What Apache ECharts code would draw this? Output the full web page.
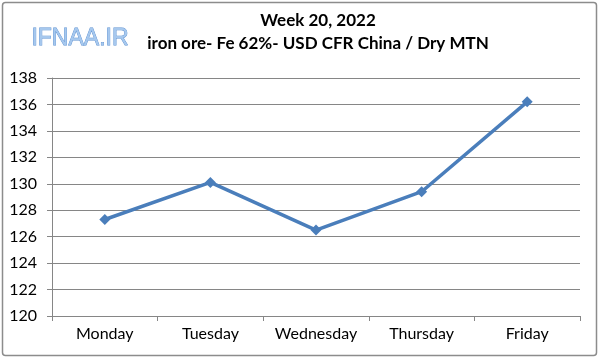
<!DOCTYPE html>
<html><head><meta charset="utf-8">
<script src="https://cdn.jsdelivr.net/npm/echarts@6/dist/echarts.min.js"></script>
<style>html,body{margin:0;padding:0;background:#fff}#c{width:600px;height:359px}</style>
</head><body><div id="c"></div>
<script>
const categories = ['Monday', 'Tuesday', 'Wednesday', 'Thursday', 'Friday'];
const prices = [127.3, 130.1, 126.5, 129.4, 136.2];
const yMin = 120, yMax = 138, yStep = 2;
const titleText = 'Week 20, 2022';
const subtitleText = 'iron ore- Fe 62%- USD CFR China / Dry MTN';
const logoText = 'IFNAA.IR';

const FONT = 'Lato, "Open Sans", Arial, sans-serif';
const chart = echarts.init(document.getElementById('c'));
chart.setOption({
  animation: false,
  backgroundColor: '#fff',
  graphic: [
    { type: 'rect', shape: { x: 2.5, y: 2.5, width: 594, height: 353, r: 3 },
      style: { fill: 'none', stroke: '#8c8c8c', lineWidth: 1.5 }, z: -1 },
    { type: 'text', left: 31, top: 27,
      style: { text: logoText, font: '23px "Liberation Sans", Arial, sans-serif',
        fill: '#a6c8ee', stroke: '#5b8fd0', lineWidth: 0.8 } }
  ],
  title: [
    { text: titleText, left: 313, top: 7, textAlign: 'center',
      textStyle: { fontSize: 17, fontWeight: 'bold', color: '#000', fontFamily: FONT } },
    { text: subtitleText, left: 313, top: 30, textAlign: 'center',
      textStyle: { fontSize: 17, fontWeight: 'bold', color: '#000', fontFamily: FONT } }
  ],
  grid: { left: 52, right: 20, top: 78, bottom: 43, containLabel: false },
  xAxis: {
    type: 'category', data: categories, boundaryGap: true,
    axisLine: { lineStyle: { color: '#868686', width: 1 } },
    axisTick: { show: true, length: 5, interval: 0, lineStyle: { color: '#868686' } },
    axisLabel: { color: '#000', fontSize: 16, margin: 10, interval: 0, fontFamily: FONT },
    splitLine: { show: false }
  },
  yAxis: {
    type: 'value', min: yMin, max: yMax, interval: yStep,
    axisLine: { show: true, lineStyle: { color: '#868686', width: 1 } },
    axisTick: { show: true, length: 5, lineStyle: { color: '#868686' } },
    axisLabel: { color: '#000', fontSize: 16, margin: 15, fontFamily: FONT },
    splitLine: { show: true, lineStyle: { color: '#868686', width: 1 } }
  },
  series: [{
    type: 'line', data: prices,
    symbol: 'diamond', symbolSize: 11,
    lineStyle: { color: '#4a7ebb', width: 3.5 },
    itemStyle: { color: '#4a7ebb' }
  }]
});
</script></body></html>
